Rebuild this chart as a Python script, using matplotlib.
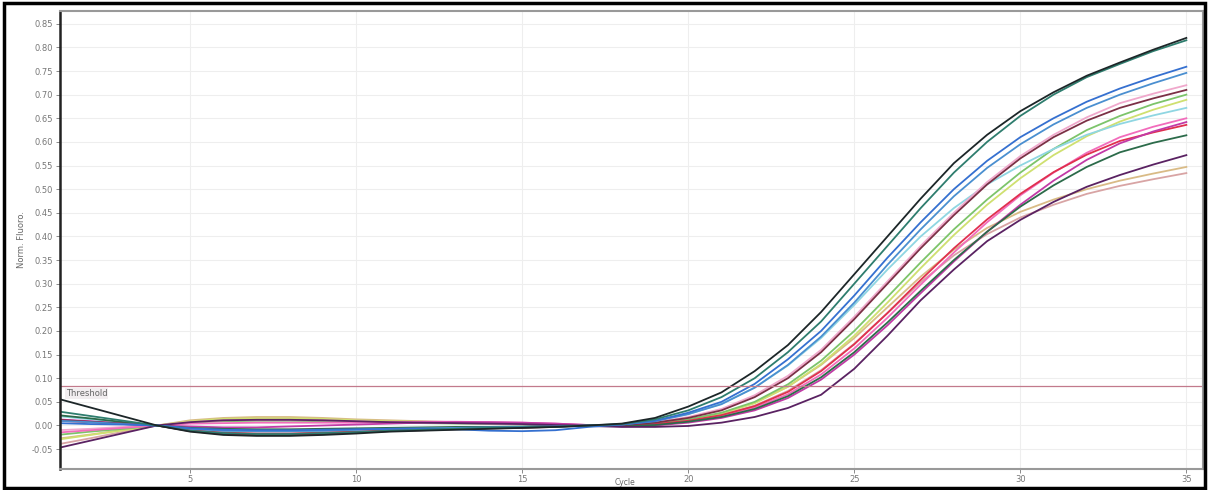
"""
Amplification plot (normalised fluorescence vs cycle)
"""
import matplotlib
matplotlib.use("Agg")
import matplotlib.pyplot as plt
from matplotlib.patches import Rectangle

cycles = list(range(1, 36))
threshold = 0.083

# one list per sample, values read per cycle (1..35)
black = [0.057, 0.038, 0.019, 0.0, -0.013, -0.02, -0.022, -0.022, -0.02, -0.017, -0.013, -0.011,
         -0.009, -0.007, -0.005, -0.003, 0.0, 0.004, 0.016, 0.04, 0.07, 0.115, 0.17, 0.24, 0.32,
         0.40, 0.48, 0.555, 0.615, 0.665, 0.705, 0.74, 0.768, 0.795, 0.82]
dark_teal = [0.03, 0.02, 0.01, 0.0, -0.011, -0.016, -0.018, -0.018, -0.016, -0.014, -0.011, -0.009,
             -0.007, -0.005, -0.004, -0.003, 0.0, 0.003, 0.013, 0.032, 0.06, 0.10, 0.155, 0.22, 0.30,
             0.38, 0.46, 0.535, 0.60, 0.655, 0.70, 0.737, 0.765, 0.792, 0.815]
blue = [0.005, 0.003, 0.002, 0.0, -0.006, -0.009, -0.01, -0.01, -0.009, -0.008, -0.007, -0.007,
        -0.008, -0.011, -0.012, -0.01, -0.003, 0.002, 0.01, 0.027, 0.05, 0.088, 0.14, 0.20, 0.275,
        0.355, 0.43, 0.50, 0.56, 0.61, 0.65, 0.685, 0.713, 0.737, 0.759]
steel_blue = [0.01, 0.007, 0.003, 0.0, -0.007, -0.011, -0.012, -0.012, -0.011, -0.009, -0.007, -0.006,
              -0.005, -0.004, -0.003, -0.002, 0.0, 0.002, 0.009, 0.024, 0.045, 0.08, 0.128, 0.188, 0.26,
              0.34, 0.415, 0.485, 0.545, 0.595, 0.637, 0.672, 0.70, 0.724, 0.746]
light_pink = [-0.01, -0.007, -0.003, 0.0, 0.007, 0.011, 0.012, 0.012, 0.011, 0.009, 0.007, 0.006,
              0.005, 0.004, 0.003, 0.002, 0.0, 0.002, 0.007, 0.018, 0.035, 0.064, 0.105, 0.16, 0.23,
              0.305, 0.38, 0.45, 0.515, 0.57, 0.615, 0.652, 0.682, 0.702, 0.72]
maroon = [0.012, 0.008, 0.004, 0.0, -0.012, -0.018, -0.02, -0.02, -0.018, -0.015, -0.012, -0.01,
          -0.008, -0.006, -0.005, -0.003, 0.0, 0.001, 0.006, 0.016, 0.032, 0.06, 0.10, 0.155, 0.225,
          0.30, 0.375, 0.445, 0.51, 0.565, 0.61, 0.645, 0.672, 0.692, 0.71]
green = [-0.02, -0.013, -0.007, 0.0, 0.006, 0.009, 0.01, 0.01, 0.009, 0.008, 0.006, 0.005,
         0.004, 0.003, 0.003, 0.002, 0.0, 0.001, 0.005, 0.013, 0.027, 0.05, 0.087, 0.137, 0.20,
         0.272, 0.345, 0.415, 0.478, 0.535, 0.585, 0.625, 0.655, 0.68, 0.70]
yellow_green = [-0.03, -0.02, -0.01, 0.0, 0.009, 0.014, 0.015, 0.015, 0.014, 0.011, 0.009, 0.008,
                0.006, 0.005, 0.004, 0.002, 0.0, 0.0, 0.004, 0.012, 0.025, 0.047, 0.082, 0.13, 0.19,
                0.26, 0.333, 0.403, 0.467, 0.523, 0.572, 0.612, 0.643, 0.668, 0.689]
light_cyan = [0.02, 0.013, 0.007, 0.0, -0.008, -0.012, -0.013, -0.013, -0.012, -0.01, -0.008, -0.007,
              -0.005, -0.004, -0.003, -0.002, 0.0, 0.002, 0.01, 0.024, 0.046, 0.08, 0.127, 0.185, 0.255,
              0.33, 0.40, 0.46, 0.51, 0.55, 0.585, 0.615, 0.638, 0.656, 0.672]
pink = [-0.015, -0.01, -0.005, 0.0, 0.004, 0.005, 0.006, 0.006, 0.006, 0.006, 0.007, 0.008,
        0.008, 0.007, 0.006, 0.004, 0.001, -0.001, 0.002, 0.009, 0.02, 0.038, 0.066, 0.108, 0.163,
        0.228, 0.298, 0.366, 0.43, 0.487, 0.535, 0.577, 0.61, 0.632, 0.65]
magenta = [0.013, 0.009, 0.004, 0.0, -0.002, -0.004, -0.004, -0.002, 0.0, 0.002, 0.004, 0.006,
           0.007, 0.007, 0.006, 0.004, 0.001, -0.002, 0.0, 0.006, 0.016, 0.032, 0.058, 0.097, 0.15,
           0.212, 0.28, 0.347, 0.41, 0.467, 0.518, 0.562, 0.597, 0.622, 0.642]
red = [0.01, 0.007, 0.003, 0.0, -0.01, -0.015, -0.017, -0.017, -0.015, -0.013, -0.01, -0.008,
       -0.006, -0.005, -0.004, -0.002, 0.0, -0.001, 0.003, 0.01, 0.022, 0.041, 0.071, 0.115, 0.172,
       0.238, 0.308, 0.375, 0.436, 0.49, 0.536, 0.573, 0.602, 0.62, 0.636]
dark_green = [0.022, 0.015, 0.007, 0.0, -0.005, -0.007, -0.008, -0.008, -0.007, -0.006, -0.005, -0.004,
              -0.003, -0.003, -0.002, -0.001, 0.0, -0.001, 0.001, 0.008, 0.018, 0.035, 0.062, 0.102, 0.155,
              0.218, 0.285, 0.35, 0.41, 0.463, 0.508, 0.547, 0.578, 0.598, 0.614]
dark_purple = [-0.048, -0.032, -0.016, 0.0, 0.007, 0.011, 0.012, 0.012, 0.011, 0.009, 0.007, 0.006,
               0.005, 0.004, 0.003, 0.001, -0.001, -0.003, -0.003, -0.001, 0.006, 0.018, 0.037, 0.065, 0.12,
               0.19, 0.265, 0.33, 0.39, 0.435, 0.473, 0.505, 0.53, 0.552, 0.572]
tan = [-0.028, -0.019, -0.009, 0.0, 0.011, 0.016, 0.018, 0.018, 0.016, 0.013, 0.011, 0.009,
       0.007, 0.005, 0.004, 0.003, 0.0, 0.0, 0.004, 0.012, 0.026, 0.048, 0.082, 0.128, 0.185,
       0.25, 0.315, 0.372, 0.418, 0.452, 0.478, 0.50, 0.518, 0.533, 0.547]
rose_tan = [-0.04, -0.027, -0.013, 0.0, 0.008, 0.012, 0.014, 0.014, 0.013, 0.011, 0.008, 0.007,
            0.006, 0.004, 0.003, 0.002, 0.0, -0.001, 0.003, 0.01, 0.022, 0.042, 0.073, 0.117, 0.173,
            0.238, 0.303, 0.36, 0.405, 0.44, 0.467, 0.49, 0.507, 0.521, 0.534]

samples = [tan, rose_tan, yellow_green, green, light_cyan, light_pink, pink, red, magenta,
           dark_green, dark_purple, maroon, steel_blue, blue, dark_teal, black]
colors = ["#d9bb86", "#d8a4a4", "#cfe070", "#7cc46a", "#8fd6e2", "#f0a8cc", "#f26cbc", "#e0304e",
          "#c23aa6", "#2c6b4a", "#5a2262", "#7b2f45", "#4a8fd0", "#3570d0", "#2e7d6e", "#1c2628"]

fig = plt.figure(figsize=(12.09, 4.90), dpi=100)
fig.patches.append(Rectangle((0.003, 0.004), 0.994, 0.99, transform=fig.transFigure,
                             fill=False, edgecolor="black", linewidth=2.5))
ax = fig.add_axes([0.0496, 0.0429, 0.9454, 0.9347])

for vals, col in zip(samples, colors):
    ax.plot(cycles, vals, color=col, linewidth=1.3)

ax.axhline(threshold, color="#c27a8c", linewidth=0.9)
ax.text(1.25, threshold - 0.006, "Threshold", fontsize=6, color="#666666", va="top", ha="left",
        bbox=dict(facecolor="#f2eef0", edgecolor="none", pad=0.5))

ax.set_xlim(1.08, 35.5)
ax.set_ylim(-0.092, 0.877)
ax.set_xticks([5, 10, 15, 20, 25, 30, 35])
ax.set_yticks([round(-0.05 + 0.05 * i, 2) for i in range(19)])
ax.set_yticklabels([f"{-0.05 + 0.05 * i:.2f}" for i in range(19)])
ax.tick_params(labelsize=6, colors="#777777", length=3, width=0.6, pad=2)
ax.tick_params(axis="x", pad=1)
ax.grid(True, color="#eeeeee", linewidth=0.8)
ax.set_axisbelow(True)

for side in ["top", "right", "bottom"]:
    ax.spines[side].set_color("#999999")
    ax.spines[side].set_linewidth(1.5)
ax.spines["left"].set_color("#222222")
ax.spines["left"].set_linewidth(1.8)

# x label sits right at the bottom frame, as in the source screenshot
fig.text(0.517, 0.0155, "Cycle", fontsize=5.5, color="#666666", ha="center", va="center")
ax.set_ylabel("Norm. Fluoro.", fontsize=6, color="#666666", labelpad=4)

plt.savefig("out.png", dpi=100)
